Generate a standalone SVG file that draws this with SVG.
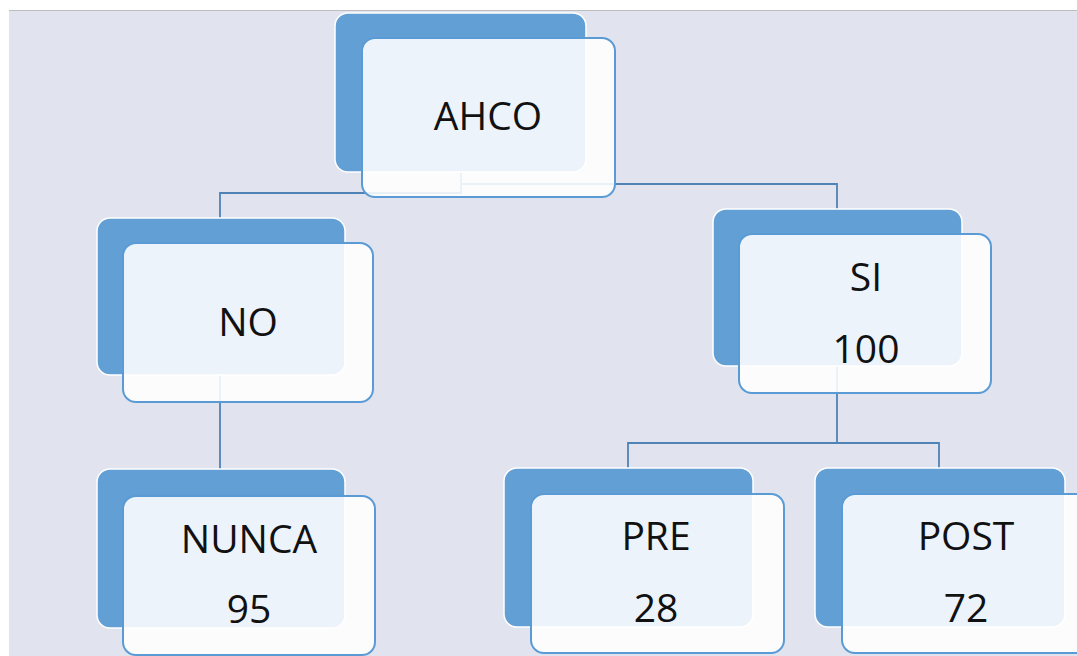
<svg xmlns="http://www.w3.org/2000/svg" width="1077" height="656" viewBox="0 0 1077 656">
  <style>
    .back { fill: #619fd5; stroke: #ffffff; stroke-width: 1.5; }
    .front { fill: #ffffff; fill-opacity: 0.88; stroke: #5b9bd5; stroke-width: 2; }
    .lbl { font-family: "Open Sans", "Noto Sans", "Liberation Sans", sans-serif; font-size: 39px; fill: #111111; text-anchor: middle; }
    .wire { fill: none; stroke: #4f83b6; stroke-width: 1.8; }
  </style>

  <!-- canvas -->
  <rect x="0" y="0" width="1077" height="656" fill="#ffffff"/>
  <rect x="9" y="10" width="1068" height="646" fill="#e1e3ef"/>
  <line x1="9" y1="10.5" x2="1077" y2="10.5" stroke="#bdbdbd" stroke-width="1"/>

  <!-- connectors -->
  <g id="connectors">
    <path class="wire" d="M461 172 V193 H220 V218"/>
    <path class="wire" d="M461 184 H837 V209"/>
    <path class="wire" d="M220 375 V469"/>
    <path class="wire" d="M837 366 V443 H628 V468"/>
    <path class="wire" d="M837 443 H939 V468"/>
  </g>

  <!-- root -->
  <g id="node-ahco">
    <rect class="back" x="335" y="13" width="251" height="159" rx="13"/>
    <rect class="front" x="362" y="38" width="253" height="159" rx="13"/>
    <text class="lbl" x="488" y="130">AHCO</text>
  </g>

  <g id="node-no">
    <rect class="back" x="97" y="218" width="248" height="157" rx="13"/>
    <rect class="front" x="123" y="243" width="250" height="159" rx="13"/>
    <text class="lbl" x="248" y="336">NO</text>
  </g>

  <g id="node-si">
    <rect class="back" x="713" y="209" width="249" height="157" rx="13"/>
    <rect class="front" x="739" y="234" width="252" height="159" rx="13"/>
    <text class="lbl" x="866" y="291">SI</text>
    <text class="lbl" x="866" y="363">100</text>
  </g>

  <g id="node-nunca">
    <rect class="back" x="97" y="469" width="248" height="159" rx="13"/>
    <rect class="front" x="123" y="496" width="252" height="159" rx="13"/>
    <text class="lbl" x="249" y="553">NUNCA</text>
    <text class="lbl" x="249" y="623">95</text>
  </g>

  <g id="node-pre">
    <rect class="back" x="504" y="468" width="249" height="159" rx="13"/>
    <rect class="front" x="531" y="494" width="253" height="159" rx="13"/>
    <text class="lbl" x="656" y="550">PRE</text>
    <text class="lbl" x="656" y="622">28</text>
  </g>

  <g id="node-post">
    <rect class="back" x="815" y="468" width="250" height="159" rx="13"/>
    <rect class="front" x="842" y="494" width="253" height="159" rx="13"/>
    <text class="lbl" x="966" y="550">POST</text>
    <text class="lbl" x="966" y="622">72</text>
  </g>
</svg>
